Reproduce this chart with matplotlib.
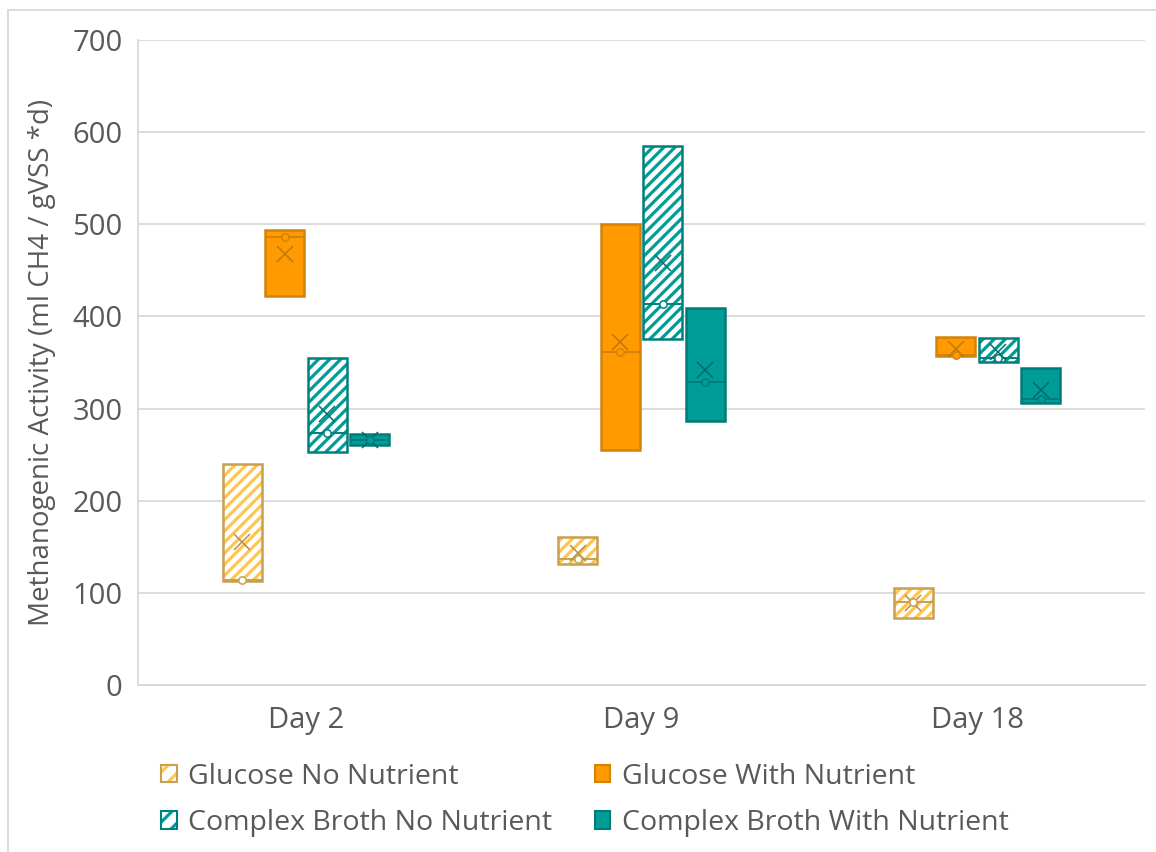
import numpy as np
import matplotlib
matplotlib.use("Agg")
import matplotlib.pyplot as plt
from matplotlib.patches import Patch, PathPatch
from matplotlib.lines import Line2D

plt.rcParams['font.family'] = ['Open Sans', 'DejaVu Sans']
plt.rcParams['hatch.linewidth'] = 2.3

# Triplicate measurements (ml CH4 / gVSS*d) per treatment and sampling day
days = ["Day 2", "Day 9", "Day 18"]
series = ["Glucose No Nutrient", "Glucose With Nutrient",
          "Complex Broth No Nutrient", "Complex Broth With Nutrient"]

glucose_no_nutrient = [[113, 114, 240], [131, 137, 161], [73, 90, 105]]
glucose_with_nutrient = [[422, 486, 494], [255, 361, 500], [357, 358, 378]]
broth_no_nutrient = [[253, 274, 355], [376, 413, 585], [351, 355, 377]]
broth_with_nutrient = [[260, 266, 272], [287, 329, 409], [306, 310, 344]]

all_data = [glucose_no_nutrient, glucose_with_nutrient,
            broth_no_nutrient, broth_with_nutrient]

# styling: face, hatch colour, edge, mean-marker colour, hatched?
styles = [
    dict(face="white", hatchc="#FFC64F", edge="#C9A050", mark="#B48F45", hatch=True),
    dict(face="#FF9A00", hatchc=None, edge="#D5820A", mark="#BF7808", hatch=False),
    dict(face="white", hatchc="#009C98", edge="#00807C", mark="#00706C", hatch=True),
    dict(face="#009C98", hatchc=None, edge="#007C78", mark="#006B68", hatch=False),
]

text_col = "#595959"
grid_col = "#D9D9D9"
HATCH = "///"

fig = plt.figure(figsize=(11.56, 8.52), dpi=100)
ax = fig.add_axes([0.1194, 0.196, 0.8711, 0.757])

step = 0.1265
width = 0.116
offsets = (np.arange(4) - 1.5) * step

for s, (data, st) in enumerate(zip(all_data, styles)):
    stats = []
    for vals in data:
        v = np.sort(np.asarray(vals, dtype=float))
        stats.append(dict(med=float(np.median(v)), q1=float(v[0]), q3=float(v[-1]),
                          whislo=float(v[0]), whishi=float(v[-1]),
                          mean=float(v.mean()), fliers=[]))
    pos = np.arange(len(days)) + offsets[s]
    bp = ax.bxp(stats, positions=pos, widths=width, patch_artist=True,
                showmeans=True, showcaps=False, showfliers=False,
                manage_ticks=False,
                whiskerprops=dict(linewidth=0),
                medianprops=dict(color=st["edge"], linewidth=1.4),
                meanprops=dict(marker="x", markersize=11, markeredgewidth=1.1,
                               markeredgecolor=st["mark"], linestyle="none"),
                zorder=3)
    for box in bp["boxes"]:
        if st["hatch"]:
            box.set_facecolor("white")
            box.set_edgecolor(st["hatchc"])
            box.set_hatch(HATCH)
            box.set_linewidth(0)
            outline = PathPatch(box.get_path(), fill=False, edgecolor=st["edge"],
                                linewidth=1.8, zorder=3.2)
            ax.add_patch(outline)
        else:
            box.set_facecolor(st["face"])
            box.set_edgecolor(st["edge"])
            box.set_linewidth(1.8)
    for m in bp["medians"]:
        m.set_zorder(3.3)
    for m in bp["means"]:
        m.set_zorder(3.4)
    meds = [d["med"] for d in stats]
    ax.scatter(pos, meds, s=28, marker="o", facecolor=st["face"],
               edgecolor=st["edge"], linewidth=1.1, zorder=3.5)

ax.set_xlim(-0.5, 2.5)
ax.set_ylim(0, 700)
ax.set_yticks(np.arange(0, 701, 100))
ax.set_xticks(np.arange(len(days)))
ax.set_xticklabels(days)
ax.tick_params(axis="both", length=0, labelsize=21, colors=text_col)
ax.tick_params(axis="x", pad=15)
ax.tick_params(axis="y", pad=11)
ax.grid(axis="y", color=grid_col, linewidth=1.3, zorder=0)
ax.set_axisbelow(True)
for side in ["top", "right"]:
    ax.spines[side].set_visible(False)
ax.spines["left"].set_color(grid_col)
ax.spines["bottom"].set_color(grid_col)
ax.spines["left"].set_linewidth(1.3)
ax.spines["bottom"].set_linewidth(1.3)
ax.set_ylabel("Methanogenic Activity (ml CH4 / gVSS *d)", fontsize=20,
              color=text_col, labelpad=12)

# legend, filled row by row (two per row)
handles = []
for st in styles:
    if st["hatch"]:
        handles.append((Patch(facecolor="white", edgecolor=st["hatchc"], hatch="//", linewidth=0),
                        Patch(fill=False, edgecolor=st["edge"], linewidth=1.5)))
    else:
        handles.append(Patch(facecolor=st["face"], edgecolor=st["edge"], linewidth=1.5))
order = [0, 2, 1, 3]
leg = fig.legend([handles[i] for i in order], [series[i] for i in order],
                 loc="center left", bbox_to_anchor=(0.117, 0.061),
                 ncol=2, frameon=False, fontsize=20.5, handlelength=0.55,
                 handleheight=0.55, handletextpad=0.4, columnspacing=1.5,
                 labelspacing=0.64, labelcolor=text_col)

# chart-area frame (left and top edges)
fig.add_artist(Line2D([8 / 1156, 8 / 1156], [0, 1 - 10 / 852], color="#D9D9D9", lw=1.3))
fig.add_artist(Line2D([8 / 1156, 1], [1 - 10 / 852, 1 - 10 / 852], color="#D9D9D9", lw=1.3))

fig.savefig("out.png", dpi=100)
